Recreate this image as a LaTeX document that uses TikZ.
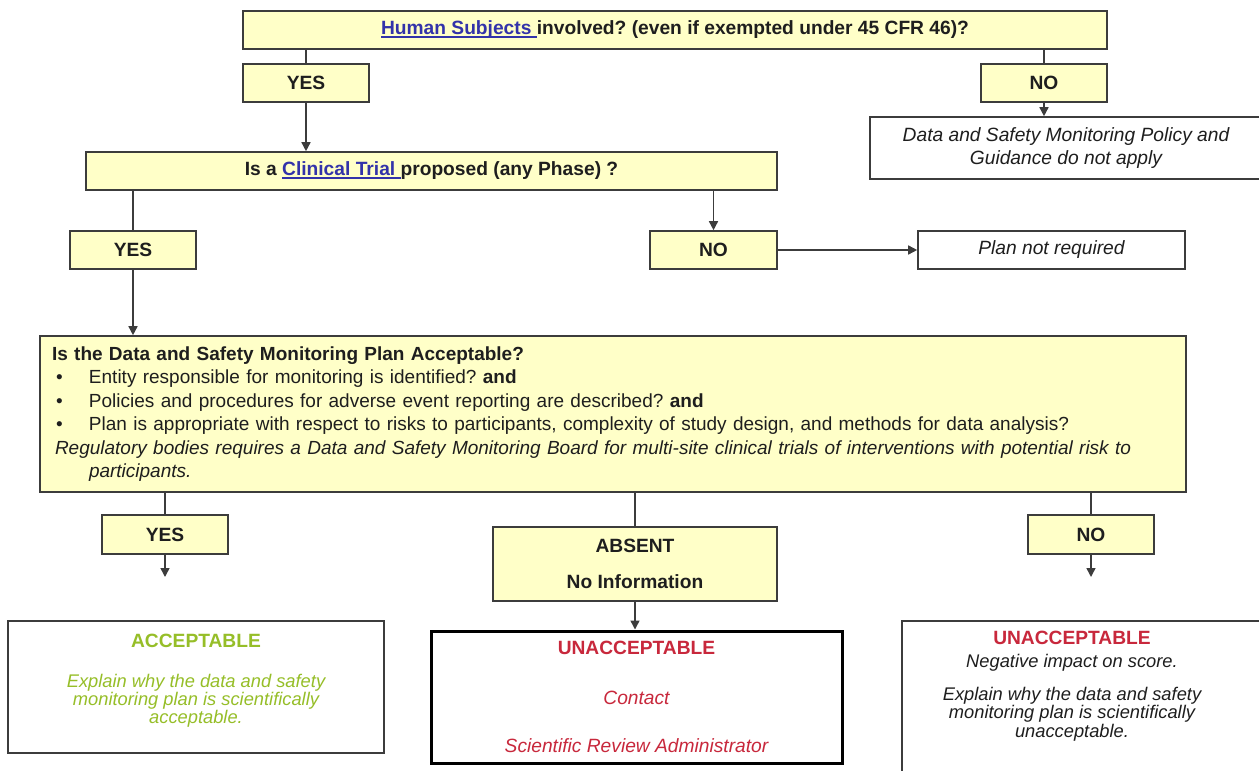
\documentclass[tikz,border=0pt]{standalone}
\usepackage{fontspec}
\setmainfont{Liberation Sans}
\usetikzlibrary{arrows.meta}
\definecolor{yfill}{RGB}{255,255,200}
\definecolor{bcol}{RGB}{60,60,60}
\definecolor{linkblue}{RGB}{50,50,170}
\definecolor{accgreen}{RGB}{150,190,40}
\definecolor{unred}{RGB}{200,40,60}
\definecolor{txtcol}{RGB}{30,30,30}
\newcommand\lnk[1]{\begingroup\color{linkblue}\setbox0\hbox{#1}\rlap{\rule[-2.6pt]{\wd0}{1.3pt}}\box0\endgroup}
\newcommand\bul{\hspace*{4pt}\makebox[33pt][l]{•}}
\frenchspacing
\begin{document}
\begin{tikzpicture}[x=1pt,y=-1pt,
  ybox/.style={draw=bcol, line width=1.6pt, fill=yfill, inner sep=0pt, font=\fontsize{19.2}{23}\selectfont\bfseries, text=txtcol},
  wbox/.style={draw=bcol, line width=1.6pt, fill=white, inner sep=0pt, font=\fontsize{19.2}{23}\selectfont\itshape, text=txtcol, align=center},
  plaintext/.style={inner sep=0pt, align=center, text=txtcol},
  conn/.style={draw=bcol, line width=1.5pt},
  arr/.style={conn, -{Triangle[width=9pt,length=9pt]}},
]
\useasboundingbox (0,0) rectangle (1259,771);
\clip (0,0) rectangle (1259,771);

\node[ybox, minimum width=864pt, minimum height=38pt] (top) at (675,30) {\lnk{Human Subjects }involved? (even if exempted under 45 CFR 46)?};
\node[ybox, minimum width=126pt, minimum height=38pt] (yes1) at (306,83) {YES};
\node[ybox, minimum width=126pt, minimum height=38pt] (no1) at (1044,83) {NO};
\node[wbox, minimum width=392pt, minimum height=62pt] (data) at (1066,148) {Data and Safety Monitoring Policy and\\Guidance do not apply};
\node[ybox, minimum width=691pt, minimum height=38pt] (clin) at (431.5,171) {Is a \lnk{Clinical Trial }proposed (any Phase) ?};
\node[ybox, minimum width=126pt, minimum height=38pt] (yes2) at (133,250) {YES};
\node[ybox, minimum width=127pt, minimum height=38pt] (no2) at (713.5,250) {NO};
\node[wbox, minimum width=267pt, minimum height=38pt] (plan) at (1051.5,250) {Plan not required};

\node[ybox, minimum width=1146pt, minimum height=156pt, text width=1122pt, align=left,
      font=\fontsize{19}{23.5}\selectfont] (dsmp) at (613,414) {%
\textbf{Is the Data and Safety Monitoring Plan Acceptable?}\\
\bul Entity responsible for monitoring is identified? \textbf{and}\\
\bul Policies and procedures for adverse event reporting are described? \textbf{and}\\
\bul Plan is appropriate with respect to risks to participants, complexity of study design, and methods for data analysis?\\
\hspace*{3pt}\textit{Regulatory bodies requires a Data and Safety Monitoring Board for multi-site clinical trials of interventions with potential risk to}\\
\hspace*{37pt}\textit{participants.}};

\node[ybox, minimum width=126pt, minimum height=39pt] (yes3) at (165,534.5) {YES};
\node[ybox, minimum width=284pt, minimum height=74pt, align=center] (absent) at (635,564) {ABSENT\\[13pt]No Information};
\node[ybox, minimum width=126pt, minimum height=39pt] (no3) at (1091,534.5) {NO};

\node[wbox, minimum width=376pt, minimum height=132pt] (acc) at (196,687) {};
\node[plaintext, font=\fontsize{18.3}{18}\selectfont\itshape, text=accgreen] (acctext) at (196,681) {%
{\fontsize{19.2}{18}\selectfont\bfseries\upshape ACCEPTABLE}\\[22pt]
Explain why the data and safety\\monitoring plan is scientifically\\acceptable.};

\node[wbox, minimum width=411pt, minimum height=132pt, draw=black, line width=3pt, text=unred] (unacc) at (636.5,697) {%
{\bfseries\upshape UNACCEPTABLE}\\[27pt]Contact\\[25pt]Scientific Review Administrator};

\node[wbox, minimum width=360pt, minimum height=180pt] (unacc2) at (1082,711) {};
\node[plaintext, font=\fontsize{18.3}{18.5}\selectfont\itshape] (unacc2text) at (1072,686) {%
\textcolor{unred}{\fontsize{19.2}{18.5}\selectfont\bfseries\upshape UNACCEPTABLE}\\[4.5pt]
Negative impact on score.\\[14.5pt]
Explain why the data and safety\\monitoring plan is scientifically\\unacceptable.};

\draw[conn] (top.south -| yes1.north) -- (yes1.north);
\draw[conn] (top.south -| no1.north) -- (no1.north);
\draw[arr] (yes1.south) -- (yes1.south |- clin.north);
\draw[arr] (no1.south) -- (no1.south |- data.north);
\draw[conn] (clin.south -| yes2.north) -- (yes2.north);
\draw[arr] (clin.south -| no2.north) -- (no2.north);
\draw[arr] (no2.east) -- (plan.west);
\draw[arr] (yes2.south) -- (yes2.south |- dsmp.north);
\draw[conn] (dsmp.south -| yes3.north) -- (yes3.north);
\draw[conn] (dsmp.south -| absent.north) -- (absent.north);
\draw[conn] (dsmp.south -| no3.north) -- (no3.north);
\coordinate (yes3end) at (165,577);
\coordinate (no3end) at (1091,577);
\draw[arr] (yes3.south) -- (yes3end);
\draw[arr] (no3.south) -- (no3end);
\draw[arr] (absent.south) -- (absent.south |- unacc.north);
\end{tikzpicture}
\end{document}
